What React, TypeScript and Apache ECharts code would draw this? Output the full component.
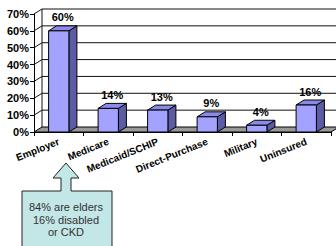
import React, { useEffect, useRef } from "react";
import * as echarts from "echarts";

const categories = ["Employer", "Medicare", "Medicaid/SCHIP", "Direct-Purchase", "Military", "Uninsured"];
const values = [60, 14, 13, 9, 4, 16];
const yTicks = [0, 10, 20, 30, 40, 50, 60, 70];
const calloutLines = ["84% are elders", "16% disabled", "or CKD"];

const DX = 8;
const DY = -5;
const FONT = "Arial, 'Liberation Sans', sans-serif";

export default function App() {
  const ref = useRef<HTMLDivElement>(null);
  useEffect(() => {
    if (!ref.current) return;
    const chart = echarts.init(ref.current, undefined, { renderer: "svg" });
    const option: any = {
      animation: false,
      grid: { left: 34, right: 5, top: 14, bottom: 114, containLabel: false },
      xAxis: {
        type: "category",
        data: categories,
        axisLine: { show: true, lineStyle: { color: "#000", width: 1 } },
        axisTick: { show: true, length: 4, lineStyle: { color: "#000" } },
        axisLabel: {
          interval: 0,
          rotate: 22,
          margin: 9,
          color: "#000",
          fontFamily: FONT,
          fontWeight: "bold",
          fontSize: 10,
        },
        splitLine: { show: false },
      },
      yAxis: {
        type: "value",
        min: 0,
        max: 70,
        interval: 10,
        axisLine: { show: true, lineStyle: { color: "#000", width: 1 } },
        axisTick: { show: true, length: 4, lineStyle: { color: "#000" } },
        axisLabel: {
          formatter: "{value}%",
          margin: 5,
          color: "#000",
          fontFamily: FONT,
          fontWeight: "bold",
          fontSize: 11,
        },
        splitLine: { show: false },
      },
      series: [
        {
          type: "custom",
          z: 1,
          silent: true,
          data: yTicks.map((t) => [0, t]),
          renderItem: (params: any, api: any) => {
            const cs = params.coordSys;
            const v = api.value(1);
            const y = api.coord([0, v])[1];
            const x0 = cs.x;
            const x1 = cs.x + cs.width;
            const children: any[] = [];
            if (v === 0) {
              children.push({
                type: "polygon",
                shape: { points: [[x0, y], [x1, y], [x1 + DX, y + DY], [x0 + DX, y + DY]] },
                style: { fill: "#999999", stroke: "#000", lineWidth: 1 },
              });
            } else {
              children.push({
                type: "polyline",
                shape: { points: [[x0, y], [x0 + DX, y + DY], [x1 + DX, y + DY]] },
                style: { fill: null, stroke: "#111", lineWidth: 1 },
              });
            }
            if (v === 70) {
              const yb = cs.y + cs.height;
              children.push({
                type: "line",
                shape: { x1: x0 + DX, y1: y + DY, x2: x0 + DX, y2: yb + DY },
                style: { stroke: "#111", lineWidth: 1 },
              });
            }
            return { type: "group", children };
          },
        },
        {
          type: "custom",
          z: 3,
          silent: true,
          data: values.map((v, i) => [i, v]),
          renderItem: (params: any, api: any) => {
            const i = api.value(0);
            const v = api.value(1);
            const top = api.coord([i, v]);
            const base = api.coord([i, 0]);
            const w = api.size([1, 0])[0] * 0.41;
            const l = top[0] - w / 2;
            const r = top[0] + w / 2;
            const t = top[1];
            const b = base[1];
            return {
              type: "group",
              children: [
                {
                  type: "polygon",
                  shape: { points: [[r, t], [r + DX, t + DY], [r + DX, b + DY], [r, b]] },
                  style: { fill: "#5c5ca6", stroke: "#000", lineWidth: 1 },
                },
                {
                  type: "polygon",
                  shape: { points: [[l, t], [l + DX, t + DY], [r + DX, t + DY], [r, t]] },
                  style: { fill: "#8a8ae8", stroke: "#000", lineWidth: 1 },
                },
                {
                  type: "rect",
                  shape: { x: l, y: t, width: w, height: b - t },
                  style: { fill: "#a3a3ff", stroke: "#000", lineWidth: 1 },
                },
                {
                  type: "text",
                  x: top[0] + DX / 2,
                  y: t + DY - 3,
                  style: {
                    text: v + "%",
                    align: "center",
                    verticalAlign: "bottom",
                    fill: "#000",
                    font: "bold 11px " + FONT,
                  },
                },
              ],
            };
          },
        },
      ],
      graphic: [
        {
          type: "polygon",
          z: 10,
          shape: {
            points: [
              [22, 191], [61, 191], [61, 178], [53, 178], [66, 163], [79, 178], [71, 178], [71, 191],
              [112, 191], [112, 252], [22, 252],
            ],
          },
          style: { fill: "#c3e6e6", stroke: "#222", lineWidth: 1 },
        },
        ...calloutLines.map((s, k) => ({
          type: "text",
          z: 11,
          x: 66,
          y: 207 + k * 12.5,
          style: {
            text: s,
            align: "center",
            verticalAlign: "middle",
            fill: "#333",
            font: "11px " + FONT,
          },
        })),
      ],
    };
    chart.setOption(option);
    return () => chart.dispose();
  }, []);
  return (
    <div
      ref={ref}
      style={{ position: "fixed", left: 0, top: 0, width: 336, height: 246, background: "#fff" }}
    />
  );
}
